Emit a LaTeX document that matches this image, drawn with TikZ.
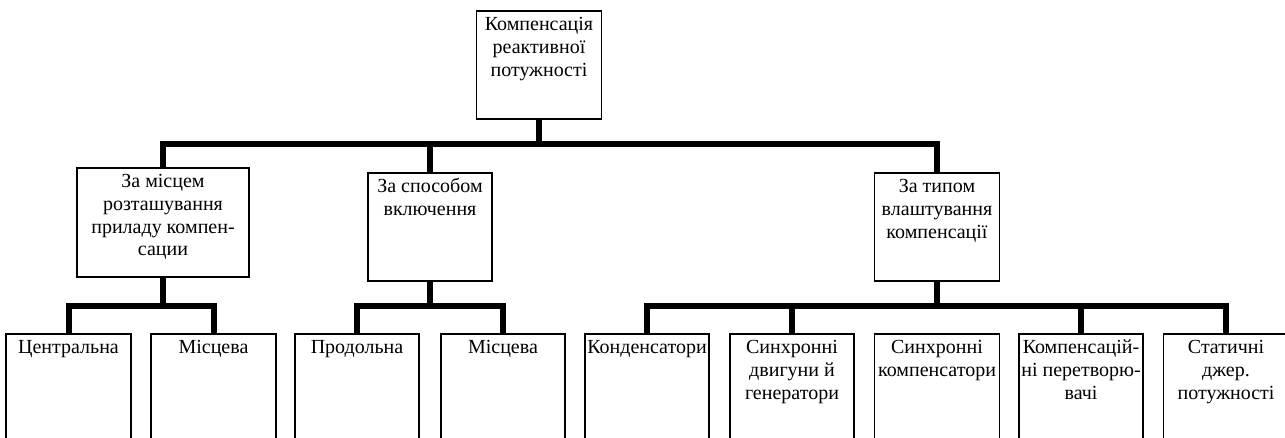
\documentclass[tikz,border=0pt]{standalone}
\usepackage{fontspec}
\setmainfont{Liberation Serif}
\usepackage{tikz}
\newcommand{\boxtext}[3]{   % width, height, text
	\parbox[t][#2][t]{#1}{\centering\vspace*{4pt}\strut #3}%
}
\tikzset{
	blk/.style={draw, line width=1.5pt, inner sep=0pt, anchor=north},
	bus/.style={line width=6pt},
}

\begin{document}
\begin{tikzpicture}[x=1pt, y=-1pt, font=\fontsize{20}{22.7}\selectfont]
\useasboundingbox (0,0) rectangle (1285,437);
\clip (0,0) rectangle (1285,437);

% top
\node[blk] (top) at (539,10) {\boxtext{125pt}{108pt}{Компенсація\\ реактивної\\ потужності}};

% second level
\node[blk] (a) at (163,167) {\boxtext{172pt}{109pt}{За місцем\\ розташування\\ приладу компен-\\ сации}};
\node[blk] (b) at (430,172) {\boxtext{124pt}{108pt}{За способом\\ включення}};
\node[blk] (c) at (937,172) {\boxtext{125pt}{108pt}{За типом\\ влаштування\\ компенсації}};

% leaves
\node[blk] (a1) at (68.5,333) {\boxtext{125pt}{140pt}{Центральна}};
\node[blk] (a2) at (213.5,333) {\boxtext{125pt}{140pt}{Місцева}};
\node[blk] (b1) at (357,333) {\boxtext{124pt}{140pt}{Продольна}};
\node[blk] (b2) at (503,333) {\boxtext{124pt}{140pt}{Місцева}};
\node[blk] (c1) at (647,333) {\boxtext{124pt}{140pt}{Конденсатори}};
\node[blk] (c2) at (792,333) {\boxtext{124pt}{140pt}{Синхронні\\ двигуни й\\ генератори}};
\node[blk] (c3) at (937,333) {\boxtext{125pt}{140pt}{Синхронні\\ компенсатори}};
\node[blk] (c4) at (1081,333) {\boxtext{124pt}{140pt}{Компенсацій-\\ ні перетворю-\\ вачі}};
\node[blk] (c5) at (1226,333) {\boxtext{125pt}{140pt}{Статичні\\ джер.\\ потужності}};

% buses
\draw[bus] (top.south) -- (top.south |- 0,144);
\draw[bus] (a.north) |- (c.north |- 0,144) -- (c.north);
\draw[bus] (b.north) -- (b.north |- 0,144);

\draw[bus] (a.south) -- (a.south |- 0,306);
\draw[bus] (a1.north) |- (a2.north |- 0,306) -- (a2.north);

\draw[bus] (b.south) -- (b.south |- 0,306);
\draw[bus] (b1.north) |- (b2.north |- 0,306) -- (b2.north);

\draw[bus] (c.south) -- (c.south |- 0,306);
\draw[bus] (c1.north) |- (c5.north |- 0,306) -- (c5.north);
\foreach \n in {c2,c4}
	\draw[bus] (\n.north) -- (\n.north |- 0,306);
\end{tikzpicture}
\end{document}
